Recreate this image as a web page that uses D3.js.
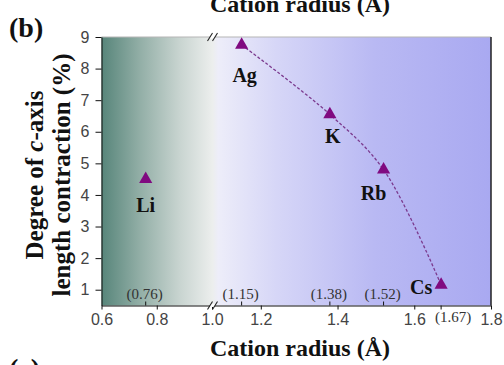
<!DOCTYPE html>
<html>
<head>
<meta charset="utf-8">
<script src="https://cdn.jsdelivr.net/npm/d3@7"></script>
<style>
  html, body { margin: 0; padding: 0; background: #fff; }
  svg { display: block; }
  .serif { font-family: "Liberation Serif", "Times New Roman", serif; font-weight: bold; fill: #111; }
  .axis text { font-family: "Liberation Sans", Arial, sans-serif; font-size: 16px; fill: #444; }
  .axis path, .axis line { stroke: #111; }
</style>
</head>
<body>
<svg id="chart" width="504" height="365"></svg>
<script>
// cation data
const elements = ['Li', 'Ag', 'K', 'Rb', 'Cs'];
const radii = [0.76, 1.15, 1.38, 1.52, 1.67];
const contraction = [4.5, 8.75, 6.55, 4.8, 1.15];
const radiusLabels = ['(0.76)', '(1.15)', '(1.38)', '(1.52)', '(1.67)'];
const xTicks = [0.6, 0.8, 1.0, 1.2, 1.4, 1.6, 1.8];
const yTicks = [1, 2, 3, 4, 5, 6, 7, 8, 9];
// the dashed trend joins Ag..Cs only
const trendMembers = ['Ag', 'K', 'Rb', 'Cs'];

const width = 504;
const height = 365;
const svg = d3.select('#chart').attr('viewBox', `0 0 ${width} ${height}`);

// broken x axis: 0.6-1.0 compressed, then jumps to ~1.08-1.8
const x = d3.scaleLinear().domain([0.6, 1.0, 1.078, 1.8]).range([101.5, 212, 214, 491]);
const y = d3.scaleLinear().domain([0.5, 9]).range([305.5, 37]);

const points = elements.map((el, i) => ({ el, r: radii[i], v: contraction[i], label: radiusLabels[i] }));

const defs = svg.append('defs');
const grad = defs.append('linearGradient').attr('id', 'bg').attr('gradientUnits', 'userSpaceOnUse')
  .attr('x1', x(0.6)).attr('x2', x(1.8)).attr('y1', 0).attr('y2', 0);
[
  [0, '#57857a'], [0.1, '#93afa7'], [0.2, '#c8d4d0'], [0.285, '#eceeed'],
  [0.3, '#ededf9'], [0.45, '#d6d6f7'], [0.7, '#b9b9f3'], [1, '#a9a9f1']
].forEach(([o, c]) => grad.append('stop').attr('offset', o).attr('stop-color', c));

svg.append('rect').attr('x', x(0.6)).attr('y', y(9)).attr('width', x(1.8) - x(0.6)).attr('height', y(0.5) - y(9)).attr('fill', 'url(#bg)');

// frame: light top, dark right
svg.append('line').attr('x1', x(0.6)).attr('x2', x(1.8)).attr('y1', y(9)).attr('y2', y(9)).attr('stroke', '#b5b5b5').attr('stroke-width', 1.2);
svg.append('line').attr('x1', x(1.8)).attr('x2', x(1.8)).attr('y1', y(9)).attr('y2', y(0.5)).attr('stroke', '#222').attr('stroke-width', 1.5);

svg.append('g').attr('class', 'axis').attr('transform', `translate(0,${y(0.5)})`)
  .call(d3.axisBottom(x).tickValues(xTicks).tickFormat(d3.format('.1f')).tickSize(4).tickSizeOuter(0).tickPadding(4));
svg.append('g').attr('class', 'axis').attr('transform', `translate(${x(0.6)},0)`)
  .call(d3.axisLeft(y).tickValues(yTicks).tickSize(6).tickSizeOuter(0).tickPadding(6));

// inward ticks at each cation radius
svg.append('g').selectAll('line').data(points).join('line')
  .attr('x1', (d) => x(d.r)).attr('x2', (d) => x(d.r))
  .attr('y1', y(0.5)).attr('y2', (d) => (d.el === 'Cs' ? y(0.5) + 4 : y(0.5) - 4))
  .attr('stroke', '#111');

svg.append('g').selectAll('text').data(points).join('text')
  .attr('class', 'serif')
  .style('font-weight', 'normal').style('fill', '#333').style('font-size', '15px')
  .attr('text-anchor', 'middle')
  .attr('x', (d) => x(d.r) + (d.el === 'Cs' ? 12 : -1))
  .attr('y', (d) => (d.el === 'Cs' ? y(0.5) + 16 : y(0.5) - 7))
  .text((d) => d.label);

// axis break marks
const bx = (x(1.0) + x(1.078)) / 2;
[y(9), y(0.5)].forEach((by) => {
  const g = svg.append('g');
  g.append('rect').attr('x', bx - 3).attr('y', by - 1.5).attr('width', 5).attr('height', 3).attr('fill', '#fff');
  [-3, 2].forEach((dx) => {
    g.append('line').attr('x1', bx + dx - 2.5).attr('y1', by + 4).attr('x2', bx + dx + 2.5).attr('y2', by - 4)
      .attr('stroke', '#222').attr('stroke-width', 1.1);
  });
});

const trend = points.filter((d) => trendMembers.includes(d.el));
const line = d3.line().x((d) => x(d.r)).y((d) => y(d.v)).curve(d3.curveCatmullRom.alpha(0.5));
svg.append('path').attr('d', line(trend)).attr('fill', 'none').attr('stroke', '#7b3a8e')
  .attr('stroke-width', 1.3).attr('stroke-dasharray', '3,2');

svg.append('g').selectAll('path').data(points).join('path')
  .attr('d', d3.symbol().type(d3.symbolTriangle).size(75))
  .attr('transform', (d) => `translate(${x(d.r)},${y(d.v)})`)
  .attr('fill', '#800a80');

const labelOffset = { Li: [0, 26], Ag: [3, 30], K: [3, 22], Rb: [-10, 23], Cs: [-20, 2] };
svg.append('g').selectAll('text').data(points).join('text')
  .attr('class', 'serif').style('font-size', '20px').attr('text-anchor', 'middle')
  .attr('x', (d) => x(d.r) + labelOffset[d.el][0])
  .attr('y', (d) => y(d.v) + labelOffset[d.el][1])
  .attr('dy', '0.35em')
  .text((d) => d.el);

// titles
svg.append('text').attr('class', 'serif').style('font-size', '24px').attr('text-anchor', 'middle')
  .attr('x', 300).attr('y', 356).text('Cation radius (Å)');
svg.append('text').attr('class', 'serif').style('font-size', '24px').attr('text-anchor', 'middle')
  .attr('x', 300).attr('y', 12).text('Cation radius (Å)');
svg.append('text').attr('class', 'serif').style('font-size', '28px').attr('x', 9).attr('y', 37).text('(b)');
svg.append('text').attr('class', 'serif').style('font-size', '28px').attr('x', 9).attr('y', 378).text('(c)');

const yTitle = svg.append('text').attr('class', 'serif').style('font-size', '25px').attr('text-anchor', 'middle')
  .attr('transform', 'translate(0,175) rotate(-90)');
const l1 = yTitle.append('tspan').attr('x', 0).attr('y', 43);
l1.append('tspan').text('Degree of ');
l1.append('tspan').style('font-style', 'italic').text('c');
l1.append('tspan').text('-axis');
yTitle.append('tspan').attr('x', 0).attr('y', 70).text('length contraction (%)');
</script>
</body>
</html>
